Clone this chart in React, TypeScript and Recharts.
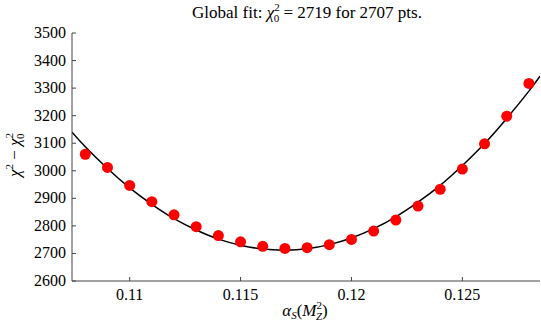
import { ComposedChart, Scatter, Line, XAxis, YAxis } from 'recharts';

// alpha_s scan points
const alphaS = [0.108, 0.109, 0.11, 0.111, 0.112, 0.113, 0.114, 0.115, 0.116, 0.117, 0.118, 0.119, 0.12, 0.121, 0.122, 0.123, 0.124, 0.125, 0.126, 0.127, 0.128];
const chi2 = [3060, 3012, 2947, 2888, 2840, 2797, 2765, 2742, 2726, 2718, 2721, 2732, 2751, 2781, 2821, 2872, 2933, 3006, 3098, 3198, 3317];

// fitted curve
const fitX = [0.1074, 0.108, 0.109, 0.11, 0.111, 0.112, 0.113, 0.114, 0.115, 0.116, 0.117, 0.118, 0.119, 0.12, 0.121, 0.122, 0.123, 0.124, 0.125, 0.126, 0.127, 0.128, 0.1285];
const fitY = [3140, 3087, 3008, 2938, 2878, 2826, 2785, 2752, 2730, 2716, 2712, 2717, 2732, 2756, 2790, 2833, 2886, 2947, 3019, 3099, 3190, 3289, 3343];

const xTicks = [0.11, 0.115, 0.12, 0.125];
const yTicks = [2600, 2700, 2800, 2900, 3000, 3100, 3200, 3300, 3400, 3500];

const points = alphaS.map((x, i) => ({ x, chi2: chi2[i] }));
const fit = fitX.map((x, i) => ({ x, chi2: fitY[i] }));

const txt = { fontFamily: '"Liberation Serif", serif', fontSize: 16, fill: '#000' };
const AXIS = '#444';
const TL = 4;

const BottomTick = (p: any) => (
  <g>
    <line x1={p.x} y1={p.y} x2={p.x} y2={p.y - TL} stroke={AXIS} />
    <text x={p.x} y={p.y + 19} textAnchor="middle" style={txt}>{String(p.payload.value)}</text>
  </g>
);
const TopTick = (p: any) => <line x1={p.x} y1={p.y} x2={p.x} y2={p.y + TL} stroke={AXIS} />;
const LeftTick = (p: any) => (
  <g>
    <line x1={p.x} y1={p.y} x2={p.x + TL} y2={p.y} stroke={AXIS} />
    <text x={p.x - 6} y={p.y + 5} textAnchor="end" style={txt}>{p.payload.value}</text>
  </g>
);
const RightTick = (p: any) => <line x1={p.x} y1={p.y} x2={p.x - TL} y2={p.y} stroke={AXIS} />;

const Dot = (p: any) => <circle cx={p.cx} cy={p.cy} r={5.5} fill="#ff0000" />;

export default function App() {
  return (
    <div style={{ position: 'absolute', left: 0, top: 0 }}>
      <ComposedChart width={541} height={327} margin={{ top: 33, right: 1, left: 0, bottom: 0 }}>
        <XAxis xAxisId={0} type="number" dataKey="x" domain={[0.1074, 0.1285]} allowDataOverflow ticks={xTicks}
          height={46} tickSize={0} tickMargin={0} tick={<BottomTick />} stroke={AXIS} />
        <XAxis xAxisId="top" orientation="top" type="number" dataKey="x" domain={[0.1074, 0.1285]} allowDataOverflow ticks={xTicks}
          height={0} tickSize={0} tickMargin={0} tick={<TopTick />} stroke={AXIS} />
        <YAxis yAxisId={0} type="number" domain={[2600, 3500]} allowDataOverflow ticks={yTicks}
          width={72} tickSize={0} tickMargin={0} tick={<LeftTick />} stroke={AXIS} />
        <YAxis yAxisId="right" orientation="right" type="number" domain={[2600, 3500]} allowDataOverflow ticks={yTicks}
          width={0} tickSize={0} tickMargin={0} tick={<RightTick />} stroke={AXIS} />
        <Scatter data={points} dataKey="chi2" shape={<Dot />} isAnimationActive={false} />
        <Line data={fit} dataKey="chi2" type="natural" stroke="#000" strokeWidth={1.5} dot={false} isAnimationActive={false} />
        <text x={307} y={18} textAnchor="middle" style={{ ...txt, fontSize: 17 }}>
          Global fit:  <tspan fontStyle="italic">χ</tspan><tspan dy={-7} fontSize={11}>2</tspan><tspan dx={-6} dy={11} fontSize={11}>0</tspan><tspan dy={-4}> = 2719 for 2707 pts.</tspan>
        </text>
        <text x={305} y={316} textAnchor="middle" style={{ ...txt, fontSize: 17 }}>
          <tspan fontStyle="italic">α</tspan><tspan dy={3} fontSize={11} fontStyle="italic">S</tspan><tspan dy={-3}>(</tspan><tspan fontStyle="italic">M</tspan><tspan dy={-7} fontSize={11}>2</tspan><tspan dx={-6} dy={11} fontSize={11} fontStyle="italic">Z</tspan><tspan dy={-4}>)</tspan>
        </text>
        <text transform="translate(20,155) rotate(-90)" textAnchor="middle" style={{ ...txt, fontSize: 17 }}>
          <tspan fontStyle="italic">χ</tspan><tspan dy={-7} fontSize={11}>2</tspan><tspan dy={7}> − </tspan><tspan fontStyle="italic">χ</tspan><tspan dy={-7} fontSize={11}>2</tspan><tspan dx={-6} dy={11} fontSize={11}>0</tspan>
        </text>
      </ComposedChart>
    </div>
  );
}
